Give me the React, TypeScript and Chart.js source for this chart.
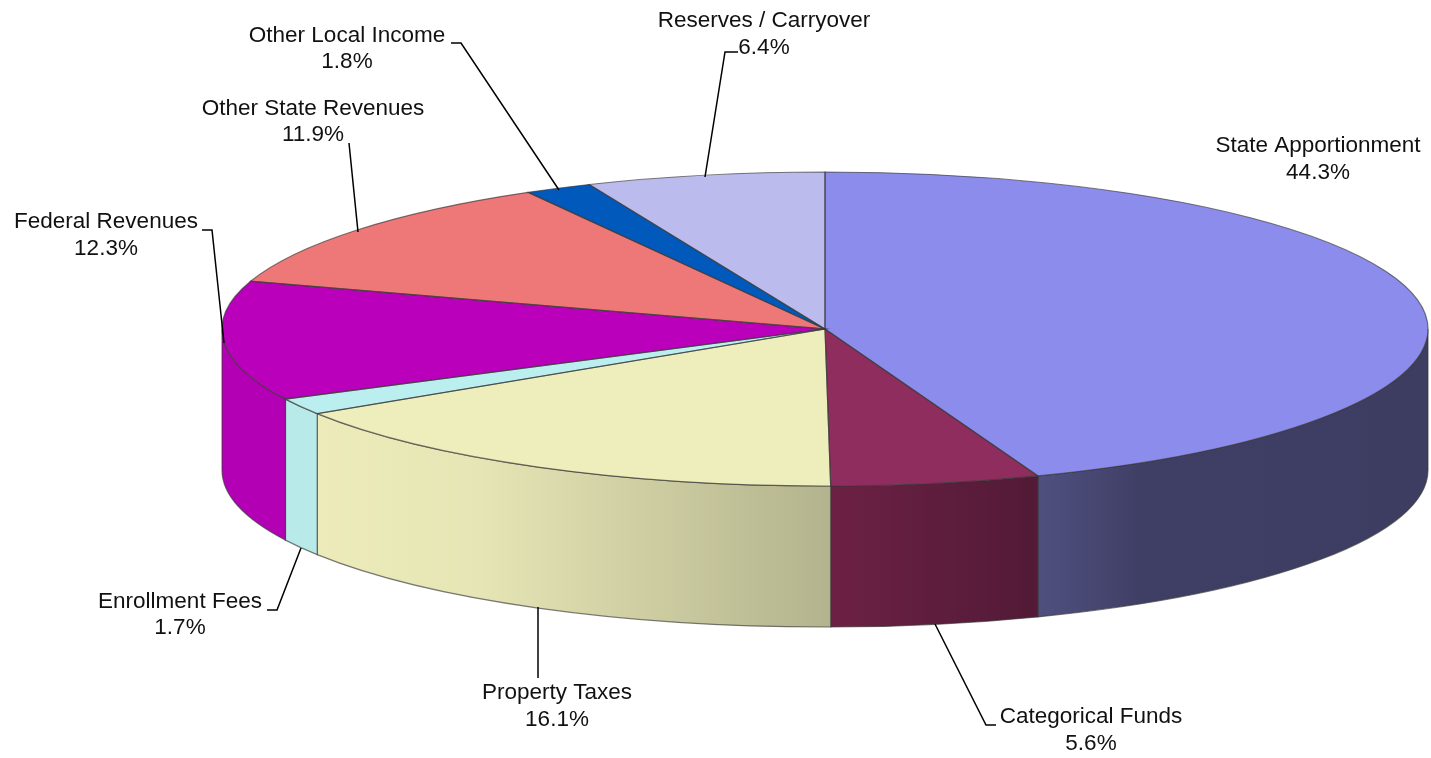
import React, { useEffect, useRef } from "react";
import { Chart, registerables } from "chart.js";

Chart.register(...registerables);

const categories = [
  "State Apportionment",
  "Categorical Funds",
  "Property Taxes",
  "Enrollment Fees",
  "Federal Revenues",
  "Other State Revenues",
  "Other Local Income",
  "Reserves / Carryover",
];
const values = [44.3, 5.6, 16.1, 1.7, 12.3, 11.9, 1.8, 6.4];
const topColors = ["#8c8ced", "#8f2e5e", "#eeeebc", "#bbeeee", "#bb00bb", "#ee7777", "#0059bb", "#bbbbee"];

// wall shading: [x, colour] stops for each slice
const wallStops: [number, string][][] = [
  [[1037, "#50507f"], [1140, "#3f3f66"], [1428, "#3d3d62"]],
  [[830, "#6c2144"], [1037, "#521a36"]],
  [[316, "#ecebb9"], [480, "#e6e5b5"], [830, "#b3b38d"]],
  [[284, "#b9eaea"], [317, "#b9eaea"]],
  [[222, "#b400b4"], [290, "#b400b4"]],
  [[222, "#e07070"], [290, "#e07070"]],
  [[222, "#0055b0"], [290, "#0055b0"]],
  [[222, "#b0b0e0"], [290, "#b0b0e0"]],
];

// layout of the 3D view
const CX = 825;
const CY = 329;
const RX = 603;
const RY = 157;
const DEPTH = 141;
const FONT_PX = 22.5;

// label centres [x, first-line y, second-line y]
const labelPos: [number, number, number][] = [
  [1318, 146, 173],
  [1091, 717, 744],
  [557, 693, 720],
  [180, 602, 628],
  [106, 222, 249],
  [313, 109, 135],
  [347, 36, 62],
  [764, 21, 48],
];
// leader polylines (empty = no leader)
const leaders: [number, number][][] = [
  [],
  [[996, 725], [986, 725], [935, 624]],
  [[538, 678], [538, 607]],
  [[267, 610], [277, 610], [301, 548]],
  [[202, 230], [212, 230], [224, 343]],
  [[349, 143], [358, 232]],
  [[451, 43], [461, 43], [559, 190]],
  [[738, 52], [725, 52], [705, 177]],
];

const OUTLINE = "rgba(55,55,55,0.65)";

const pie3d = {
  id: "pie3d",
  beforeDatasetsDraw(chart: any) {
    const ctx = chart.ctx as CanvasRenderingContext2D;
    const arcs = chart.getDatasetMeta(0).data;
    // side walls, front half only
    arcs.forEach((arc: any, i: number) => {
      const { startAngle, endAngle } = arc.getProps(["startAngle", "endAngle"], true);
      const ranges: [number, number][] = [];
      const full = Math.PI * 2;
      for (const k of [-1, 0, 1]) {
        const a = Math.max(startAngle, k * full);
        const b = Math.min(endAngle, k * full + Math.PI);
        if (b > a) ranges.push([a, b]);
      }
      for (const [a, b] of ranges) {
        ctx.beginPath();
        ctx.ellipse(CX, CY, RX, RY, 0, a, b, false);
        ctx.lineTo(CX + RX * Math.cos(b), CY + DEPTH + RY * Math.sin(b));
        ctx.ellipse(CX, CY + DEPTH, RX, RY, 0, b, a, true);
        ctx.closePath();
        const stops = wallStops[i];
        const x0 = stops[0][0];
        const x1 = stops[stops.length - 1][0];
        const g = ctx.createLinearGradient(x0, 0, x1, 0);
        stops.forEach(([x, c]) => g.addColorStop((x - x0) / (x1 - x0), c));
        ctx.fillStyle = g;
        ctx.fill();
        ctx.strokeStyle = OUTLINE;
        ctx.lineWidth = 1.2;
        ctx.stroke();
      }
    });
    // squash the library's round pie onto the ellipse
    const first = arcs[0].getProps(["x", "y", "outerRadius"], true);
    ctx.save();
    ctx.translate(CX, CY);
    ctx.scale(RX / first.outerRadius, RY / first.outerRadius);
    ctx.translate(-first.x, -first.y);
  },
  afterDatasetsDraw(chart: any) {
    const ctx = chart.ctx as CanvasRenderingContext2D;
    ctx.restore();
    const arcs = chart.getDatasetMeta(0).data;
    // slice outlines
    arcs.forEach((arc: any) => {
      const { startAngle, endAngle } = arc.getProps(["startAngle", "endAngle"], true);
      ctx.beginPath();
      ctx.moveTo(CX, CY);
      ctx.ellipse(CX, CY, RX, RY, 0, startAngle, endAngle, false);
      ctx.closePath();
      ctx.strokeStyle = OUTLINE;
      ctx.lineWidth = 1.2;
      ctx.stroke();
    });
    // leaders
    ctx.strokeStyle = "#000";
    ctx.lineWidth = 1.5;
    leaders.forEach((pts) => {
      if (!pts.length) return;
      ctx.beginPath();
      pts.forEach(([x, y], k) => (k ? ctx.lineTo(x, y) : ctx.moveTo(x, y)));
      ctx.stroke();
    });
    // labels
    ctx.fillStyle = "#111";
    ctx.font = `${FONT_PX}px "Liberation Sans", Arial, sans-serif`;
    ctx.textAlign = "center";
    ctx.textBaseline = "middle";
    categories.forEach((name, i) => {
      const [x, y1, y2] = labelPos[i];
      ctx.fillText(name, x, y1);
      ctx.fillText(`${values[i].toFixed(1)}%`, x, y2);
    });
  },
};

export default function App() {
  const ref = useRef<HTMLCanvasElement>(null);
  useEffect(() => {
    const chart = new Chart(ref.current!, {
      type: "pie",
      data: {
        labels: categories,
        datasets: [
          {
            data: values,
            backgroundColor: topColors,
            borderWidth: 0,
            clip: false,
          } as any,
        ],
      },
      options: {
        animation: false,
        responsive: false,
        devicePixelRatio: 1,
        layout: { padding: 0 },
        plugins: { legend: { display: false }, tooltip: { enabled: false } },
      },
      plugins: [pie3d],
    });
    return () => chart.destroy();
  }, []);
  return (
    <canvas
      ref={ref}
      width={1431}
      height={758}
      style={{ position: "fixed", left: 0, top: 0, display: "block", width: 1431, height: 758 }}
    />
  );
}
